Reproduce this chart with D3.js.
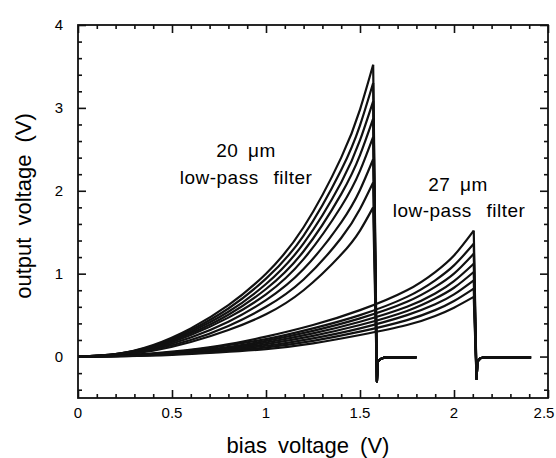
<!DOCTYPE html>
<html>
<head>
<meta charset="utf-8">
<script src="https://cdn.jsdelivr.net/npm/d3@7"></script>
<style>
  body { margin: 0; background: #fff; }
  svg text { font-family: "Liberation Sans", Arial, Helvetica, sans-serif; fill: #000; }
</style>
</head>
<body>
<svg id="chart" width="556" height="458"></svg>
<script>
// 20 um filter: bias points and output curves (top to bottom)
const bias20 = [0, 0.2, 0.4, 0.6, 0.8, 1.0, 1.2, 1.4, 1.5, 1.57]
const out20 = [
    [0, 0.03, 0.14, 0.34, 0.62, 1.00, 1.56, 2.40, 2.98, 3.52],
    [0, 0.03, 0.13, 0.32, 0.58, 0.94, 1.46, 2.25, 2.79, 3.30],
    [0, 0.03, 0.12, 0.30, 0.54, 0.875, 1.365, 2.10, 2.61, 3.08],
    [0, 0.025, 0.115, 0.28, 0.505, 0.815, 1.27, 1.96, 2.43, 2.87],
    [0, 0.02, 0.105, 0.26, 0.47, 0.75, 1.175, 1.81, 2.24, 2.65],
    [0, 0.02, 0.095, 0.23, 0.42, 0.68, 1.055, 1.62, 2.01, 2.38],
    [0, 0.02, 0.085, 0.20, 0.37, 0.60, 0.93, 1.43, 1.78, 2.10],
    [0, 0.015, 0.07, 0.175, 0.32, 0.51, 0.80, 1.23, 1.52, 1.80]
]
// drop after the peak and the flat tail
const tailBias20 = [1.59, 1.595, 1.61, 1.63, 1.80]
const tailOut20 = [-0.30, -0.06, -0.03, -0.01, -0.01]

// 27 um filter
const bias27 = [0, 0.25, 0.5, 0.75, 1.0, 1.25, 1.5, 1.75, 1.9, 2.0, 2.105]
const out27 = [
    [0, 0.015, 0.06, 0.13, 0.24, 0.38, 0.56, 0.80, 1.02, 1.22, 1.52],
    [0, 0.015, 0.05, 0.12, 0.21, 0.34, 0.50, 0.72, 0.92, 1.10, 1.36],
    [0, 0.01, 0.05, 0.10, 0.19, 0.31, 0.46, 0.66, 0.84, 1.00, 1.24],
    [0, 0.01, 0.04, 0.09, 0.17, 0.28, 0.42, 0.60, 0.76, 0.91, 1.12],
    [0, 0.01, 0.04, 0.08, 0.15, 0.25, 0.38, 0.55, 0.70, 0.83, 1.02],
    [0, 0.01, 0.03, 0.07, 0.13, 0.22, 0.34, 0.50, 0.63, 0.75, 0.92],
    [0, 0.005, 0.03, 0.06, 0.11, 0.19, 0.30, 0.44, 0.56, 0.67, 0.82],
    [0, 0.005, 0.02, 0.05, 0.09, 0.16, 0.26, 0.38, 0.49, 0.59, 0.72]
]
const tailBias27 = [2.12, 2.125, 2.14, 2.16, 2.41]
const tailOut27 = [-0.27, -0.06, -0.02, -0.01, -0.01]

const xMajor = [0, 0.5, 1, 1.5, 2, 2.5]
const xLabels = ['0', '0.5', '1', '1.5', '2', '2.5']
const yMajor = [0, 1, 2, 3, 4]
const yLabels = ['0', '1', '2', '3', '4']

let svg = d3.select('#chart')

let margin = { left: 78, right: 548, top: 25, bottom: 398 }

let x = d3.scaleLinear()
.domain([0, 2.5])
.range([margin.left, margin.right])

let y = d3.scaleLinear()
.domain([-0.5, 4])
.range([margin.bottom, margin.top])

let xMinor = d3.range(0, 2.501, 0.1).filter(v => Math.abs(v*2 - Math.round(v*2)) > 1e-6)
let yMinor = d3.range(-0.4, 4.001, 0.2).filter(v => Math.abs(v - Math.round(v)) > 1e-6)

// inward ticks on all four sides
function tickAxis(axis, translate, values, size) {
    svg.append('g')
    .attr('transform', translate)
    .call(axis.tickValues(values).tickSize(size).tickFormat(''))
    .call(g => g.select('.domain').remove())
    .selectAll('line').attr('stroke', '#111').attr('stroke-width', 1.6)
}
tickAxis(d3.axisTop(x), `translate(0,${margin.bottom})`, xMajor, 8)
tickAxis(d3.axisTop(x), `translate(0,${margin.bottom})`, xMinor, 4)
tickAxis(d3.axisBottom(x), `translate(0,${margin.top})`, xMajor, 8)
tickAxis(d3.axisBottom(x), `translate(0,${margin.top})`, xMinor, 4)
tickAxis(d3.axisRight(y), `translate(${margin.left},0)`, yMajor, 8)
tickAxis(d3.axisRight(y), `translate(${margin.left},0)`, yMinor, 4)
tickAxis(d3.axisLeft(y), `translate(${margin.right},0)`, yMajor, 8)
tickAxis(d3.axisLeft(y), `translate(${margin.right},0)`, yMinor, 4)

svg.append('rect')
.attr('x', margin.left)
.attr('y', margin.top)
.attr('width', margin.right - margin.left)
.attr('height', margin.bottom - margin.top)
.attr('fill', 'none')
.attr('stroke', '#111')
.attr('stroke-width', 1.8)

// tick labels
svg.selectAll('text.xlab')
.data(xMajor)
.enter()
.append('text')
.attr('class', 'xlab')
.attr('x', d => Math.min(x(d), 544))
.attr('y', 418)
.attr('text-anchor', 'middle')
.attr('font-size', 15)
.text((d, i) => xLabels[i])

svg.selectAll('text.ylab')
.data(yMajor)
.enter()
.append('text')
.attr('class', 'ylab')
.attr('x', 63)
.attr('y', d => y(d))
.attr('dy', '0.35em')
.attr('text-anchor', 'end')
.attr('font-size', 15)
.text((d, i) => yLabels[i])

svg.append('text')
.attr('x', 308)
.attr('y', 453)
.attr('text-anchor', 'middle')
.attr('font-size', 22)
.attr('word-spacing', 5)
.text('bias voltage (V)')

svg.append('text')
.attr('transform', 'translate(31,206) rotate(-90)')
.attr('text-anchor', 'middle')
.attr('font-size', 22)
.attr('word-spacing', 6)
.text('output voltage (V)')

// curves
let rise = d3.line()
.x(d => x(d[0]))
.y(d => y(d[1]))
.curve(d3.curveNatural)

let drop = d3.line()
.x(d => x(d[0]))
.y(d => y(d[1]))

function drawGroup(bias, outs, tailBias, tailOut, cls) {
    let groups = svg.selectAll('g.' + cls)
    .data(outs)
    .enter()
    .append('g')
    .attr('class', cls)

    groups.append('path')
    .attr('d', d => rise(bias.map((b, i) => [b, d[i]])))

    groups.append('path')
    .attr('d', d => drop([[bias[bias.length-1], d[d.length-1]]].concat(tailBias.map((b, i) => [b, tailOut[i]]))))

    groups.selectAll('path')
    .attr('fill', 'none')
    .attr('stroke', '#111')
    .attr('stroke-width', 2.2)
    .attr('stroke-linejoin', 'round')
}
drawGroup(bias20, out20, tailBias20, tailOut20, 'f20')
drawGroup(bias27, out27, tailBias27, tailOut27, 'f27')

// annotations
let notes = [
    { t: '20 \u03bcm', x: 246, y: 157, ws: 4 },
    { t: 'low-pass filter', x: 246, y: 184, ws: 9 },
    { t: '27 \u03bcm', x: 458, y: 191, ws: 4 },
    { t: 'low-pass filter', x: 459, y: 217, ws: 9 }
]
svg.selectAll('text.note')
.data(notes)
.enter()
.append('text')
.attr('class', 'note')
.attr('x', d => d.x)
.attr('y', d => d.y)
.attr('text-anchor', 'middle')
.attr('font-size', 19)
.attr('letter-spacing', 0.5)
.attr('word-spacing', d => d.ws)
.text(d => d.t)
</script>
</body>
</html>
